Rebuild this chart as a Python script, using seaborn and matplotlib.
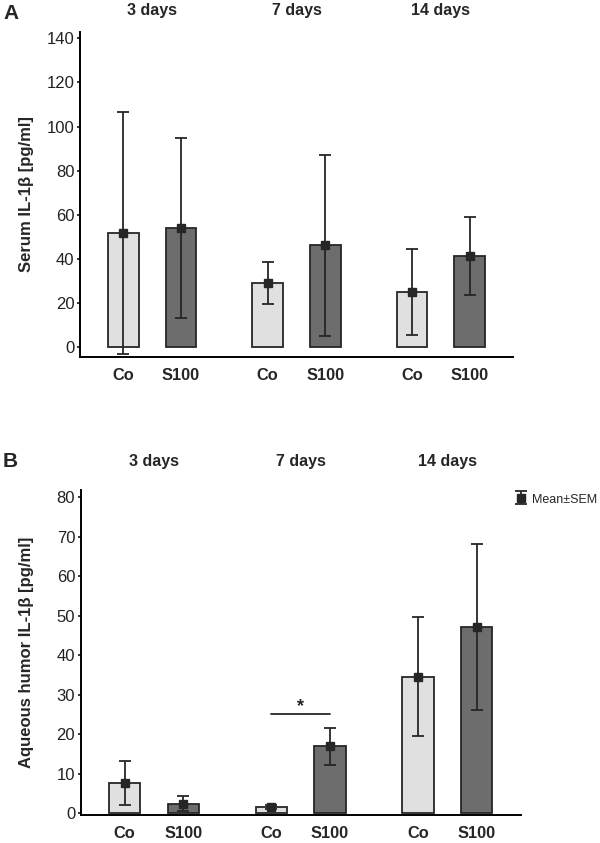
import numpy as np
import pandas as pd
import matplotlib
matplotlib.use("Agg")
import matplotlib.pyplot as plt
import matplotlib.transforms as mtransforms
import seaborn as sns

# Datos (media y SEM)
days = ["3 days", "7 days", "14 days"]
groups = ["Co", "S100"]

# Panel A: suero, orden día x grupo
serum_mean = [51.7, 54.2, 29.2, 46.1, 24.9, 41.4]
serum_sem = [55.0, 40.8, 9.6, 40.9, 19.6, 17.7]

# Panel B: humor acuoso
aqueous_mean = [7.6, 2.4, 1.5, 16.9, 34.6, 47.1]
aqueous_sem = [5.6, 1.9, 0.6, 4.6, 15.1, 21.0]

serum_ticks = list(range(0, 141, 20))
aqueous_ticks = list(range(0, 81, 10))

LIGHT = "#e0e0e0"
DARK = "#6d6d6d"
INK = "#262626"

sns.set_theme(style="white")
plt.rcParams["font.family"] = ["Liberation Sans", "DejaVu Sans"]


def dibujar_panel(ax, medias, sems, ylim, yticks, ylabel, title_y, label_x):
    df = pd.DataFrame({
        "day": np.repeat(days, len(groups)),
        "group": groups * len(days),
        "mean": medias,
        "sem": sems,
    })
    sns.barplot(data=df, x="day", y="mean", hue="group", order=days,
                hue_order=groups, palette={"Co": LIGHT, "S100": DARK},
                edgecolor=INK, linewidth=1.3, gap=0.47, errorbar=None,
                legend=False, ax=ax)

    # centros de las barras para las barras de error
    xs, ms, ss, labels = [], [], [], []
    for hi, cont in enumerate(ax.containers):
        for di, bar in enumerate(cont):
            fila = df[(df["day"] == days[di]) & (df["group"] == groups[hi])].iloc[0]
            xs.append(bar.get_x() + bar.get_width() / 2)
            ms.append(fila["mean"])
            ss.append(fila["sem"])
            labels.append(groups[hi])
    eb = ax.errorbar(xs, ms, yerr=ss, fmt="s", color=INK, ms=5.5,
                     capsize=4.3, elinewidth=1.3, capthick=1.3,
                     label="Mean\u00b1SEM", zorder=5)

    ax.set_xticks(xs)
    ax.set_xticklabels(labels, fontweight="bold", fontsize=11.8)
    ax.tick_params(axis="x", length=0, pad=8)
    ax.tick_params(axis="y", length=2.5, width=1.1, pad=1.5, labelsize=12,
                   labelcolor="#222222", left=True, color="black")
    ax.set_yticks(yticks)
    ax.set_ylim(*ylim)
    ax.set_xlim(-0.5, 2.5)
    ax.set_xlabel("")
    ax.set_ylabel(ylabel, fontweight="bold", fontsize=12)
    ax.yaxis.set_label_coords(label_x, 0.5)

    sns.despine(ax=ax)
    for s in ("left", "bottom"):
        ax.spines[s].set_color("black")
        ax.spines[s].set_linewidth(1.4)

    trans = mtransforms.blended_transform_factory(ax.transData, ax.transAxes)
    for i, d in enumerate(days):
        ax.text(i, title_y, d, transform=trans, ha="center", va="center",
                fontweight="bold", fontsize=11.5)
    return eb, xs


fig = plt.figure(figsize=(6, 8.43), dpi=100)
ax_a = fig.add_axes([0.1333, 0.5769, 0.7217, 0.3855])
ax_b = fig.add_axes([0.1345, 0.0332, 0.7333, 0.3852])

dibujar_panel(ax_a, serum_mean, serum_sem, (-4.3, 143), serum_ticks,
              "Serum IL-1\u03b2 [pg/ml]", 1.066, -0.107)
eb, xs_b = dibujar_panel(ax_b, aqueous_mean, aqueous_sem, (-0.5, 81.8),
                         aqueous_ticks, "Aqueous humor IL-1\u03b2 [pg/ml]", 1.09,
                         -0.106)

# significancia 7 días Co vs S100
ax_b.plot([xs_b[1], xs_b[4]], [25.1, 25.1], color=INK, lw=1.3)
ax_b.text((xs_b[1] + xs_b[4]) / 2, 25.8, "*", ha="center", va="baseline",
          fontsize=13, fontweight="bold", color=INK)

fig.legend(handles=[eb], labels=["Mean\u00b1SEM"], loc="center left",
           bbox_to_anchor=(0.862, 1 - 499 / 843), frameon=False,
           fontsize=9, handlelength=0.6, handleheight=1.1, handletextpad=0.55,
           borderpad=0, borderaxespad=0)

fig.text(0.005, 1 - 13.3 / 843, "A", fontsize=15, fontweight="bold", va="center")
fig.text(0.005, 1 - 461.3 / 843, "B", fontsize=15, fontweight="bold", va="center")

fig.savefig("out.png", dpi=100)
